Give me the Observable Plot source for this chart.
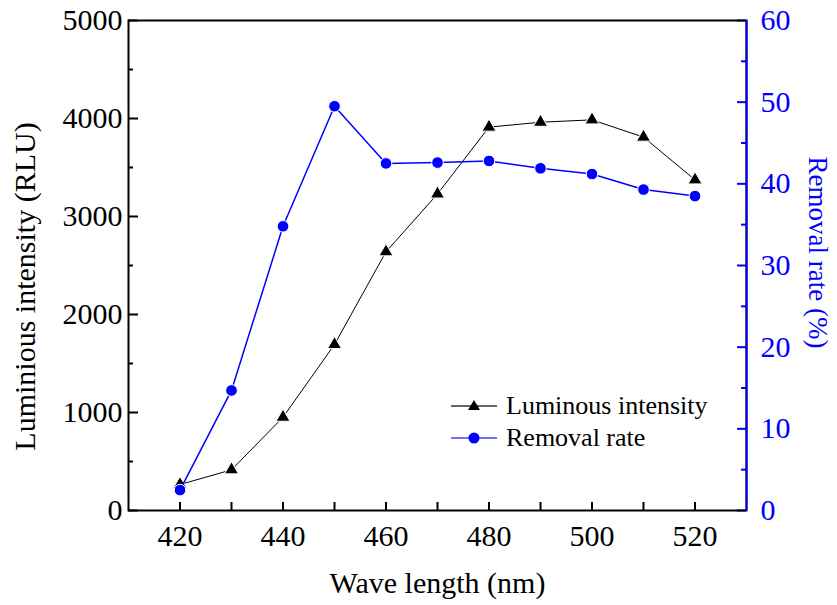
<!DOCTYPE html>
<html>
<head>
<meta charset="utf-8">
<script src="https://cdn.jsdelivr.net/npm/d3@7"></script>
<script src="https://cdn.jsdelivr.net/npm/@observablehq/plot@0.6"></script>
<style>
  body { margin: 0; background: #fff; }
  #wrap { position: relative; width: 837px; height: 605px; font-family: 'Liberation Serif', 'Times New Roman', serif; }
  #wrap svg, #wrap svg text { font-family: 'Liberation Serif', 'Times New Roman', serif !important; }
  #legend { position: absolute; left: 450px; top: 390px; font-size: 26px; line-height: 32px; }
  #legend .row { display: flex; align-items: center; white-space: nowrap; }
  #legend svg { margin-right: 8px; }
</style>
</head>
<body>
<div id="wrap"></div>
<script>
const wavelengths = [420, 430, 440, 450, 460, 470, 480, 490, 500, 510, 520];
const luminous = [265, 415, 952, 1694, 2640, 3230, 3912, 3962, 3986, 3810, 3374];
const removal = [2.5, 14.7, 34.8, 49.5, 42.5, 42.6, 42.8, 41.9, 41.2, 39.3, 38.5];

const xTickLabels = [420, 440, 460, 480, 500, 520];
const xTicks = [420, 430, 440, 450, 460, 470, 480, 490, 500, 510, 520];
const leftTicks = [0, 1000, 2000, 3000, 4000, 5000];
const leftMinor = [500, 1500, 2500, 3500, 4500];
const rightTicks = [0, 10, 20, 30, 40, 50, 60];
const rightMinor = [5, 15, 25, 35, 45, 55];

const leftMax = 5000, rightMax = 60;
const k = leftMax / rightMax;

const W = 837, H = 605, mL = 128, mR = 91, mT = 20, mB = 95;
const frameW = W - mL - mR, frameH = H - mT - mB;

const data = wavelengths.map((w, i) => ({w, lum: luminous[i], rem: removal[i]}));

const chart = Plot.plot({
  width: W, height: H,
  marginLeft: mL, marginRight: mR, marginTop: mT, marginBottom: mB,
  x: {domain: [410, 530]},
  y: {domain: [0, leftMax]},
  style: {fontFamily: "'Liberation Serif', 'Times New Roman', serif", background: "white", color: "black"},
  marks: [
    Plot.axisX(xTickLabels, {tickSize: 0, tickPadding: 14, fontSize: 30, label: null, tickFormat: d => String(d)}),
    Plot.axisY(leftTicks, {anchor: "left", tickSize: 0, tickPadding: 6, fontSize: 30, label: null, tickFormat: d => String(d)}),
    Plot.axisY(rightTicks.map(v => v * k), {anchor: "right", tickSize: 0, tickPadding: 14, fontSize: 30, label: null, fill: "blue", tickFormat: d => String(Math.round(d / k))}),
    Plot.tickY(leftTicks, {stroke: "black", strokeWidth: 2, insetRight: frameW - 10}),
    Plot.tickY(leftMinor, {stroke: "black", strokeWidth: 2, insetRight: frameW - 5}),
    Plot.tickY(rightTicks.map(v => v * k), {stroke: "blue", strokeWidth: 2, insetLeft: frameW - 9}),
    Plot.tickY(rightMinor.map(v => v * k), {stroke: "blue", strokeWidth: 2, insetLeft: frameW - 5}),
    Plot.tickX(xTicks, {stroke: "black", strokeWidth: 2, insetTop: frameH - 8}),
    Plot.frame({stroke: "black", strokeWidth: 2}),
    Plot.ruleX([530], {stroke: "blue", strokeWidth: 2}),
    Plot.line(data, {x: "w", y: "lum", stroke: "black", strokeWidth: 1}),
    Plot.dot(data, {x: "w", y: "lum", symbol: "triangle", r: 5.2, fill: "black", stroke: "white", strokeWidth: 1}),
    Plot.line(data, {x: "w", y: d => d.rem * k, stroke: "blue", strokeWidth: 1.5}),
    Plot.dot(data, {x: "w", y: d => d.rem * k, symbol: "circle", r: 5.8, fill: "blue", stroke: "white", strokeWidth: 1}),
    Plot.text(["Luminious intensity (RLU)"], {frameAnchor: "left", textAnchor: "middle", lineAnchor: "middle", rotate: -90, dx: -103, dy: 21, fontSize: 30, fill: "black"}),
    Plot.text(["Removal rate (%)"], {frameAnchor: "right", textAnchor: "middle", lineAnchor: "middle", rotate: 90, dx: 71, dy: -13, fontSize: 27, fill: "blue"}),
    Plot.text(["Wave length (nm)"], {frameAnchor: "bottom", textAnchor: "middle", lineAnchor: "middle", dy: 73, fontSize: 30, fill: "black"})
  ]
});

const wrap = document.getElementById("wrap");
wrap.appendChild(chart);

const legend = document.createElement("div");
legend.id = "legend";
legend.innerHTML = `
  <div class="row"><svg width="48" height="20"><line x1="1" y1="10" x2="47" y2="10" stroke="#333" stroke-width="1.5"/><path d="M24,4 L30,14 L18,14 Z" fill="black"/></svg><span>Luminous intensity</span></div>
  <div class="row"><svg width="48" height="20"><line x1="1" y1="10" x2="47" y2="10" stroke="#4040ff" stroke-width="1.5"/><circle cx="24" cy="10" r="5.5" fill="blue"/></svg><span>Removal rate</span></div>`;
wrap.appendChild(legend);
</script>
</body>
</html>
